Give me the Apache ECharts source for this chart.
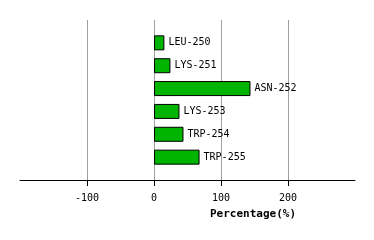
<!DOCTYPE html>
<html><head><meta charset="utf-8">
<script src="https://cdn.jsdelivr.net/npm/echarts@6/dist/echarts.min.js"></script>
<style>html,body{margin:0;padding:0;background:#fff}#c{width:374px;height:240px}</style>
</head><body><div id="c"></div>
<script>
var categories = ['LEU-250','LYS-251','ASN-252','LYS-253','TRP-254','TRP-255'];
var values = [15.5, 24.5, 144, 38, 44, 68];
var tickValues = [-100, 0, 100, 200];
var axisTitle = 'Percentage(%)';

var yCats = [''].concat(categories).concat([' ']);
var yData = [null].concat(values).concat([null]);
var chart = echarts.init(document.getElementById('c'), null, {renderer:'canvas'});
chart.setOption({
  animation:false,
  grid:{left:20,right:19,top:20,bottom:60,containLabel:false},
  xAxis:{type:'value',min:-200,max:300,interval:100,
    axisLine:{show:true,onZero:false,lineStyle:{color:'#000',width:1}},
    axisTick:{show:true,length:6,lineStyle:{color:'#000'},customValues:tickValues},
    axisLabel:{customValues:tickValues,color:'#000',fontFamily:'DejaVu Sans Mono',fontSize:10,margin:13},
    splitLine:{show:true,lineStyle:{color:'#a0a0a0',width:1}}
  },
  yAxis:{type:'category',data:yCats,inverse:true,boundaryGap:false,
    axisLine:{show:false},axisTick:{show:false},axisLabel:{show:false},splitLine:{show:false}},
  graphic:[{type:'text',left:210,top:209,style:{text:axisTitle,font:'bold 11px "DejaVu Sans Mono"',fill:'#000'}}],
  series:[{type:'bar',data:yData,barWidth:15,
    itemStyle:{color:'#00b400',borderColor:'#000',borderWidth:1},
    label:{show:true,position:'right',distance:4,color:'#000',fontFamily:'DejaVu Sans Mono',fontSize:10,
      formatter:function(p){return yCats[p.dataIndex];}}
  }]
});
</script></body></html>
